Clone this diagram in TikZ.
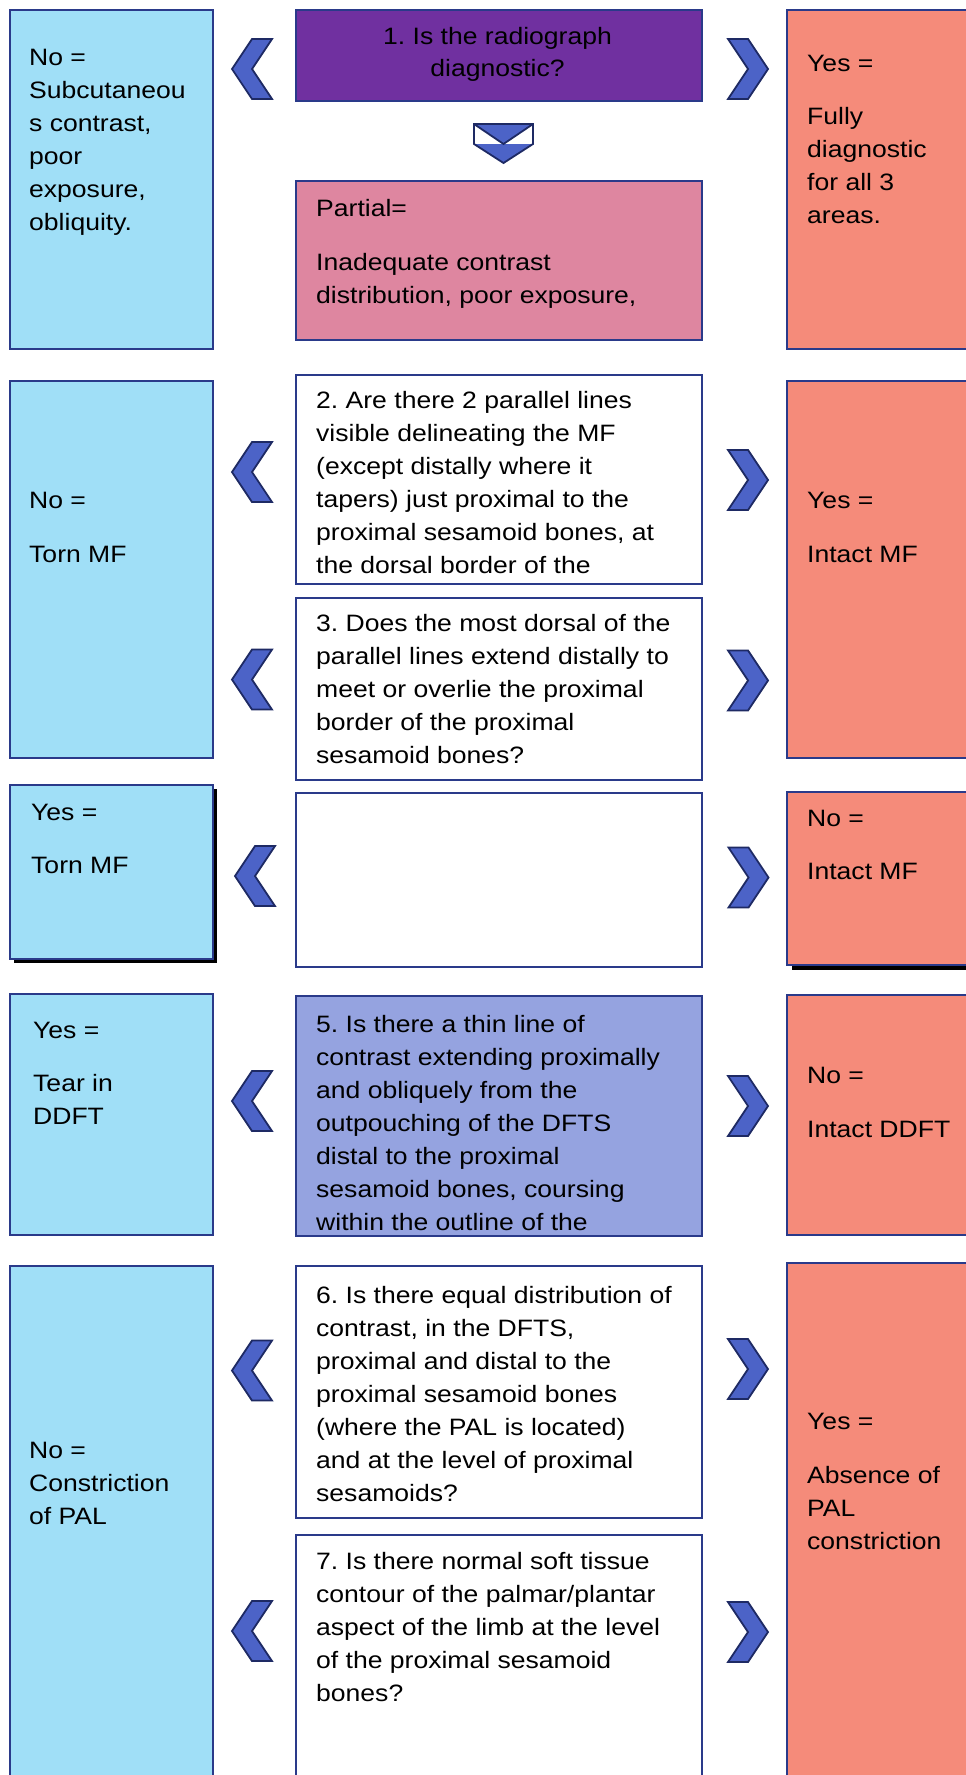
\documentclass[tikz,border=0pt]{standalone}
\usepackage{fontspec}
\setmainfont{Liberation Sans}[FakeStretch=1.12]
\frenchspacing
\definecolor{lblue}{RGB}{160,223,247}
\definecolor{salmon}{RGB}{245,139,122}
\definecolor{qpurple}{RGB}{112,48,160}
\definecolor{qpink}{RGB}{222,134,160}
\definecolor{periw}{RGB}{149,163,224}
\definecolor{bordc}{RGB}{42,58,138}
\definecolor{chevfill}{RGB}{76,99,199}
\definecolor{chevline}{RGB}{30,42,100}
\newcommand\firstln{\rule{0pt}{24pt}}
\tikzset{
  box/.style={draw=bordc, line width=2.2pt, inner sep=0pt, anchor=north west},
  txt/.style={anchor=north west, inner sep=0pt, align=left, font=\fontsize{23.7}{33}\selectfont\frenchspacing},
  ctxt/.style={anchor=north, inner sep=0pt, align=center, font=\fontsize{23.7}{32}\selectfont\frenchspacing},
  chev/.style={fill=chevfill, draw=chevline, line width=1.8pt, line join=miter},
  chevL/.pic={\path[chev] (-20,0) -- (0,-30) -- (20,-30) -- (0,0) -- (20,30) -- (0,30) -- cycle;},
  chevR/.pic={\path[chev] (20,0) -- (0,-30) -- (-20,-30) -- (0,0) -- (-20,30) -- (0,30) -- cycle;}
}
\begin{document}
\begin{tikzpicture}[x=1pt,y=-1pt]
\useasboundingbox (0,0) rectangle (966,1775);
\fill[white] (0,0) rectangle (966,1775);
\clip (0,0) rectangle (966,1775);

% ---------- row 1
\node[box, fill=lblue, minimum width=203pt, minimum height=339pt] (L1) at (9,9) {};
\node[box, fill=qpurple, minimum width=406pt, minimum height=91pt] (Q1) at (294.5,9) {};
\node[box, fill=qpink, minimum width=406pt, minimum height=159pt] (P1) at (294.5,180) {};
\node[box, fill=salmon, minimum width=210pt, minimum height=339pt] (R1) at (785.5,9) {};

\node[txt] (tL1) at (29,41) {\firstln No =\\Subcutaneou\\s contrast,\\poor\\exposure,\\obliquity.};
\node[ctxt] (tQ1) at (497.5,20) {\firstln 1. Is the radiograph\\diagnostic?};
\node[txt] (tP1) at (316,192) {\firstln Partial=\\[21pt]Inadequate contrast\\distribution, poor exposure,};
\node[txt] (tR1) at (807,47) {\firstln Yes =\\[20pt]Fully\\diagnostic\\for all 3\\areas.};

\pic (cl1) at (252,69) {chevL};
\pic (cr1) at (748,69) {chevR};
% down chevron
\fill[chevfill] (474,124) -- (533,124) -- (503.5,144) -- cycle;
\fill[chevfill] (474,144) -- (533,144) -- (503.5,163) -- cycle;
\draw[chevline, line width=1.8pt, line join=miter] (474,124) -- (533,124) -- (533,144) -- (503.5,163) -- (474,144) -- cycle;
\draw[chevline, line width=1.8pt] (474,124) -- (503.5,144) -- (533,124);

% ---------- rows 2-3
\node[box, fill=lblue, minimum width=203pt, minimum height=377pt] (L2) at (9,380) {};
\node[box, fill=white, minimum width=406pt, minimum height=209pt] (Q2) at (294.5,374) {};
\node[box, fill=white, minimum width=406pt, minimum height=182pt] (Q3) at (294.5,597) {};
\node[box, fill=salmon, minimum width=210pt, minimum height=377pt] (R2) at (785.5,380) {};

\node[txt] (tL2) at (29,484) {\firstln No =\\[21pt]Torn MF};
\node[txt] (tR2) at (807,484) {\firstln Yes =\\[21pt]Intact MF};
\node[txt] (tQ2) at (316,384) {\firstln 2. Are there 2 parallel lines\\visible delineating the MF\\(except distally where it\\tapers) just proximal to the\\proximal sesamoid bones, at\\the dorsal border of the};
\node[txt] (tQ3) at (316,607) {\firstln 3. Does the most dorsal of the\\parallel lines extend distally to\\meet or overlie the proximal\\border of the proximal\\sesamoid bones?};

\pic (cl2) at (252,472) {chevL};
\pic (cr2) at (748,480) {chevR};
\pic (cl3) at (252,679.5) {chevL};
\pic (cr3) at (748,680.5) {chevR};

% ---------- row 4
\fill[black] (14,789) rectangle (217,963);
\fill[black] (791.5,797) rectangle (996,970);
\node[box, fill=lblue, minimum width=203pt, minimum height=174pt] (L3) at (9,784) {};
\node[box, fill=white, minimum width=406pt, minimum height=174pt] (Q4) at (294.5,792) {};
\node[box, fill=salmon, minimum width=210pt, minimum height=173pt] (R3) at (785.5,791) {};

\node[txt] (tL3) at (31,796) {\firstln Yes =\\[20pt]Torn MF};
\node[txt] (tR3) at (807,802) {\firstln No =\\[20pt]Intact MF};

\pic (cl4) at (255,876) {chevL};
\pic (cr4) at (748.5,877.5) {chevR};

% ---------- row 5
\node[box, fill=lblue, minimum width=203pt, minimum height=241pt] (L5) at (9,993) {};
\node[box, fill=periw, minimum width=406pt, minimum height=240pt] (Q5) at (294.5,995) {};
\node[box, fill=salmon, minimum width=210pt, minimum height=240pt] (R5) at (785.5,994) {};

\node[txt] (tL5) at (33,1014) {\firstln Yes =\\[20pt]Tear in\\DDFT};
\node[txt] (tQ5) at (316,1008) {\firstln 5. Is there a thin line of\\contrast extending proximally\\and obliquely from the\\outpouching of the DFTS\\distal to the proximal\\sesamoid bones, coursing\\within the outline of the};
\node[txt] (tR5) at (807,1059) {\firstln No =\\[21pt]Intact DDFT};

\pic (cl5) at (252,1101) {chevL};
\pic (cr5) at (748,1106) {chevR};

% ---------- rows 6-7
\node[box, fill=lblue, minimum width=203pt, minimum height=540pt] (L6) at (9,1265) {};
\node[box, fill=white, minimum width=406pt, minimum height=252pt] (Q6) at (294.5,1265) {};
\node[box, fill=white, minimum width=406pt, minimum height=270pt] (Q7) at (294.5,1534) {};
\node[box, fill=salmon, minimum width=210pt, minimum height=540pt] (R6) at (785.5,1262) {};

\node[txt] (tL6) at (29,1434) {\firstln No =\\Constriction\\of PAL};
\node[txt] (tR6) at (807,1405) {\firstln Yes =\\[21pt]Absence of\\PAL\\constriction};
\node[txt] (tQ6) at (316,1279) {\firstln 6. Is there equal distribution of\\contrast, in the DFTS,\\proximal and distal to the\\proximal sesamoid bones\\(where the PAL is located)\\and at the level of proximal\\sesamoids?};
\node[txt] (tQ7) at (316,1545) {\firstln 7. Is there normal soft tissue\\contour of the palmar/plantar\\aspect of the limb at the level\\of the proximal sesamoid\\bones?};

\pic (cl6) at (252,1370.5) {chevL};
\pic (cr6) at (748,1369) {chevR};
\pic (cl7) at (252,1631) {chevL};
\pic (cr7) at (748,1632) {chevR};
\end{tikzpicture}
\end{document}
